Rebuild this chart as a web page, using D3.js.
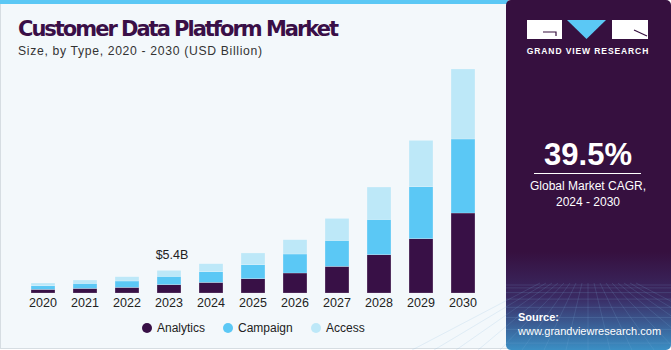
<!DOCTYPE html>
<html>
<head>
<meta charset="utf-8">
<script src="https://cdn.jsdelivr.net/npm/d3@7"></script>
<style>
  body { margin: 0; background: #fff; }
  svg { display: block; font-family: "Liberation Sans", Arial, sans-serif; }
</style>
</head>
<body>
<div id="chart"></div>
<script>
// data (USD billion)
var years = ["2020", "2021", "2022", "2023", "2024", "2025", "2026", "2027", "2028", "2029", "2030"];
var analytics = [0.86, 1.10, 1.34, 2.00, 2.53, 3.42, 4.78, 6.36, 9.15, 12.98, 19.12];
var campaign = [0.88, 1.20, 1.53, 1.98, 2.56, 3.35, 4.54, 6.21, 8.44, 12.43, 17.69];
var access = [0.65, 0.81, 1.03, 1.42, 1.91, 2.80, 3.42, 5.26, 7.74, 11.07, 16.73];
var seriesNames = ["Analytics", "Campaign", "Access"];
var colors = ["#381046", "#5bc8f5", "#bde8f8"];
var calloutYear = "2023", calloutText = "$5.4B";

var width = 671, height = 350;

var svg = d3.select("#chart").append("svg")
  .attr("width", width)
  .attr("height", height);

var defs = svg.append("defs");
var grad = defs.append("linearGradient")
  .attr("id", "panelGrad")
  .attr("x1", 0).attr("y1", 0).attr("x2", 0).attr("y2", 1);
grad.append("stop").attr("offset", "0%").attr("stop-color", "#36103f");
grad.append("stop").attr("offset", "72%").attr("stop-color", "#36103f");
grad.append("stop").attr("offset", "85%").attr("stop-color", "#3a2a63");
grad.append("stop").attr("offset", "100%").attr("stop-color", "#3b8fc4");

// left panel
svg.append("rect")
  .attr("x", 0.5).attr("y", 0.5)
  .attr("width", 508).attr("height", 348)
  .attr("fill", "#f3f8fb")
  .attr("stroke", "#d6dde2");
svg.append("rect")
  .attr("x", 0).attr("y", 0)
  .attr("width", 508).attr("height", 4)
  .attr("fill", "#5bc8f5");

// right panel
svg.append("rect")
  .attr("x", 506).attr("y", 0)
  .attr("width", 165).attr("height", 350)
  .attr("rx", 5)
  .attr("fill", "url(#panelGrad)");

// faint grid at the bottom of the panel
var gridG = svg.append("g").attr("stroke", "#7fb6dd").attr("stroke-opacity", 0.25).attr("stroke-width", 0.7);
d3.range(0, 9).forEach(function(i) {
  gridG.append("line")
    .attr("x1", 506).attr("x2", 671)
    .attr("y1", 285 + i * i * 0.9 + i * 2).attr("y2", 285 + i * i * 0.9 + i * 2);
});
d3.range(-8, 9).forEach(function(i) {
  gridG.append("line")
    .attr("x1", 588 + i * 6).attr("y1", 283)
    .attr("x2", 588 + i * 22).attr("y2", 350);
});

// titles
svg.append("text")
  .attr("x", 18).attr("y", 36)
  .attr("fill", "#3a0f47")
  .attr("font-size", 21)
  .attr("font-weight", 900)
  .attr("font-family", "'DejaVu Sans', sans-serif")
  .attr("textLength", 321)
  .text("Customer Data Platform Market");
svg.append("text")
  .attr("x", 18).attr("y", 55)
  .attr("fill", "#333")
  .attr("font-size", 12.2)
  .attr("textLength", 244)
  .text("Size, by Type, 2020 - 2030 (USD Billion)");

// scales
var xScale = d3.scaleBand()
  .domain(years)
  .range([22, 484])
  .paddingInner(0.43)
  .paddingOuter(0.215);

var yScale = d3.scaleLinear()
  .domain([0, 56])
  .range([293, 293 - 56 * 4.184]);

var table = years.map(function(y, i) {
  return { year: y, Analytics: analytics[i], Campaign: campaign[i], Access: access[i] };
});
var stacked = d3.stack().keys(seriesNames)(table);

svg.append("g")
  .selectAll("g")
  .data(stacked)
  .enter().append("g")
  .attr("fill", function(d, i) { return colors[i]; })
  .selectAll("rect")
  .data(function(d) { return d; })
  .enter().append("rect")
  .attr("x", function(d) { return xScale(d.data.year); })
  .attr("y", function(d) { return yScale(d[1]); })
  .attr("width", xScale.bandwidth())
  .attr("height", function(d) { return yScale(d[0]) - yScale(d[1]); })
  .attr("stroke", "#ffffff")
  .attr("stroke-opacity", 0.35)
  .attr("stroke-width", 0.6);

// x axis
var xAxis = d3.axisBottom(xScale).tickSize(0).tickPadding(5);
var gx = svg.append("g")
  .attr("transform", "translate(0,293)")
  .call(xAxis);
gx.select(".domain").remove();
gx.selectAll("text")
  .attr("font-size", 12.5)
  .attr("font-family", "'Liberation Sans', Arial, sans-serif")
  .attr("fill", "#222");

// callout
var ci = years.indexOf(calloutYear);
svg.append("text")
  .attr("x", xScale(calloutYear) + xScale.bandwidth() / 2 + 3)
  .attr("y", yScale(analytics[ci] + campaign[ci] + access[ci]) - 11)
  .attr("text-anchor", "middle")
  .attr("font-size", 12.5)
  .attr("fill", "#222")
  .text(calloutText);

// legend
var legendX = [147, 228, 316];
var legend = svg.append("g");
seriesNames.forEach(function(name, i) {
  legend.append("circle")
    .attr("cx", legendX[i]).attr("cy", 328)
    .attr("r", 5)
    .attr("fill", colors[i]);
  legend.append("text")
    .attr("x", legendX[i] + 10).attr("y", 332)
    .attr("font-size", 12)
    .attr("fill", "#222")
    .text(name);
});

// logo
var logo = svg.append("g");
logo.append("rect").attr("x", 527).attr("y", 20).attr("width", 35).attr("height", 19).attr("fill", "#fff");
logo.append("path").attr("d", "M543,32 H556 V36").attr("stroke", "#36103f").attr("stroke-width", 1.2).attr("fill", "none");
logo.append("path").attr("d", "M567,20 L606,20 L586.5,39 Z").attr("fill", "#5bc8f5");
logo.append("rect").attr("x", 612).attr("y", 20).attr("width", 36).attr("height", 19).attr("fill", "#fff");
logo.append("path").attr("d", "M634,30 L647,36").attr("stroke", "#36103f").attr("stroke-width", 1.2);
svg.append("text")
  .attr("x", 588).attr("y", 54)
  .attr("text-anchor", "middle")
  .attr("fill", "#fff")
  .attr("font-size", 8.5)
  .attr("font-weight", "bold")
  .attr("letter-spacing", 0.9)
  .text("GRAND VIEW RESEARCH");

// CAGR block
svg.append("text")
  .attr("x", 588).attr("y", 165)
  .attr("text-anchor", "middle")
  .attr("fill", "#fff")
  .attr("font-size", 31)
  .attr("font-weight", "bold")
  .text("39.5%");
svg.append("line")
  .attr("x1", 534).attr("x2", 641)
  .attr("y1", 173.5).attr("y2", 173.5)
  .attr("stroke", "#fff").attr("stroke-width", 1);
svg.append("text")
  .attr("x", 588).attr("y", 190)
  .attr("text-anchor", "middle")
  .attr("fill", "#fff")
  .attr("font-size", 12)
  .text("Global Market CAGR,");
svg.append("text")
  .attr("x", 588).attr("y", 206)
  .attr("text-anchor", "middle")
  .attr("fill", "#fff")
  .attr("font-size", 12)
  .text("2024 - 2030");

// source
svg.append("text")
  .attr("x", 518).attr("y", 321)
  .attr("fill", "#fff")
  .attr("font-size", 11)
  .attr("font-weight", "bold")
  .text("Source:");
svg.append("text")
  .attr("x", 518).attr("y", 335)
  .attr("fill", "#fff")
  .attr("font-size", 11)
  .text("www.grandviewresearch.com");
</script>
</body>
</html>
